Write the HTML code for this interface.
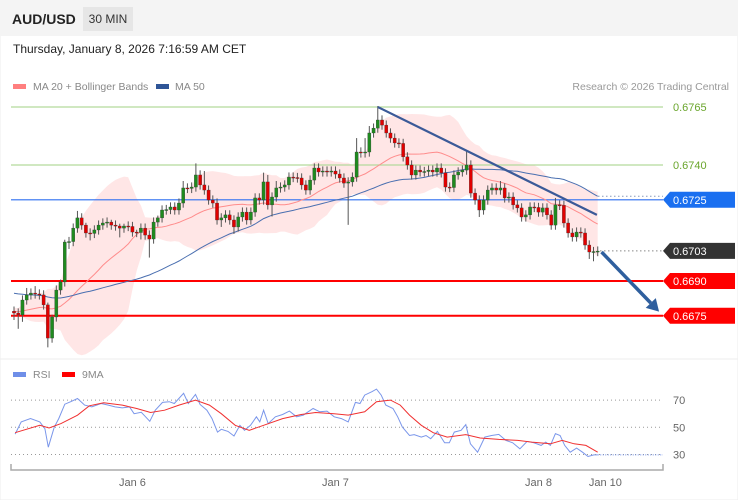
<!DOCTYPE html>
<html><head><meta charset="utf-8"><style>
body{margin:0;width:738px;height:500px;overflow:hidden;background:#fff;font-family:"Liberation Sans",sans-serif}
svg{display:block}
</style></head><body>
<svg id="c" width="738" height="500" viewBox="0 0 738 500">
<rect x="0" y="0" width="738" height="500" fill="#fff" stroke="#eee"/>
<rect x="0" y="0" width="738" height="36" fill="#f4f4f4"/>
<text x="12" y="24" font-size="14" font-weight="bold" fill="#222">AUD/USD</text>
<rect x="83" y="7" width="50" height="24" fill="#e6e6e6"/>
<text x="108" y="23" font-size="12" fill="#333" text-anchor="middle">30 MIN</text>
<text x="13" y="53" font-size="12" fill="#222">Thursday, January 8, 2026 7:16:59 AM CET</text>
<rect x="13" y="84" width="13" height="5" fill="#ff7f7f"/>
<text x="33" y="90" font-size="10.5" fill="#888">MA 20 + Bollinger Bands</text>
<rect x="156" y="84" width="13" height="5" fill="#2f5597"/>
<text x="175" y="90" font-size="10.5" fill="#888">MA 50</text>
<text x="729" y="90" font-size="10.5" fill="#999" text-anchor="end">Research © 2026 Trading Central</text>
<line x1="0" y1="359" x2="738" y2="359" stroke="#eee"/>
<g id="main"></g>
<g id="rsi"></g>
</svg>
<script>
const hist=[0.6691,0.6690,0.6692,0.6689,0.6690,0.6691,0.6690,0.6688,0.6690,0.6692,0.6691,0.6689,0.6690,0.6690,0.6691,0.6689,0.6690,0.6692,0.6690,0.6689,0.6690,0.6691,0.6690,0.6689,0.6690,0.6691,0.6690,0.6689,0.6688,0.6686,
0.6678,0.6677,0.6676,0.6678,0.6677,0.6676,0.6677,0.6678,0.6677,0.6676,0.6677,0.6678,0.6677,0.6676,0.6677,0.6678,0.6677,0.6676,0.6677];
const firstOpen=0.66770;
const closes=[0.66762,0.66754,0.66818,0.66840,0.66848,0.66844,0.66840,0.66797,0.66654,0.66745,
0.66861,0.66896,0.67068,0.67070,0.67128,0.67172,0.67141,0.67107,0.67105,0.67120,
0.67141,0.67150,0.67154,0.67141,0.67137,0.67128,0.67137,0.67135,0.67111,0.67109,
0.67128,0.67098,0.67081,0.67154,0.67172,0.67206,0.67208,0.67219,0.67206,0.67236,
0.67301,0.67299,0.67305,0.67357,0.67314,0.67292,0.67249,0.67236,0.67163,0.67172,
0.67185,0.67163,0.67133,0.67176,0.67197,0.67163,0.67197,0.67258,0.67249,0.67327,
0.67228,0.67262,0.67301,0.67305,0.67314,0.67348,0.67346,0.67344,0.67314,0.67292,
0.67335,0.67387,0.67370,0.67374,0.67370,0.67374,0.67361,0.67344,0.67322,0.67327,
0.67348,0.67456,0.67452,0.67456,0.67538,0.67559,0.67594,0.67572,0.67538,0.67516,
0.67495,0.67493,0.67435,0.67400,0.67357,0.67378,0.67370,0.67372,0.67378,0.67370,
0.67387,0.67366,0.67305,0.67303,0.67357,0.67370,0.67378,0.67400,0.67279,0.67249,
0.67206,0.67249,0.67292,0.67301,0.67292,0.67301,0.67258,0.67262,0.67228,0.67215,
0.67176,0.67185,0.67219,0.67217,0.67197,0.67215,0.67185,0.67141,0.67228,0.67226,
0.67150,0.67107,0.67090,0.67111,0.67107,0.67055,0.67025,0.67027,0.67029];
const wickUp=[2,2,2,3,2,3,2,2,1,1,2,1,1,2,2,3,2,1,2,2,2,2,2,1,2,1,1,2,2,1,2,2,2,2,1,2,2,2,2,2,3,2,2,5,2,6,2,2,2,2,2,2,2,2,2,2,2,2,2,4,3,2,3,2,2,2,2,2,2,2,2,2,2,2,2,2,2,2,2,2,2,6,2,6,3,2,6,2,2,2,2,2,2,2,2,2,2,2,2,2,2,2,2,2,2,2,2,6,2,2,2,2,2,2,2,3,2,2,2,2,2,2,2,2,2,2,2,2,3,2,2,2,2,2,2,2,2,2,2];
const wickDn=[3,6,3,2,2,2,2,2,4,2,2,2,2,3,2,2,2,2,3,2,2,2,2,2,2,4,2,2,2,2,3,2,8,2,2,2,2,2,2,2,2,2,2,2,2,2,2,2,2,3,2,2,3,2,2,2,2,2,2,2,2,5,2,2,2,2,2,2,2,2,2,2,2,2,2,2,2,2,2,18,2,2,2,2,2,2,2,2,2,2,2,2,2,2,2,2,2,2,2,2,2,2,2,2,2,2,2,2,2,2,3,2,2,2,2,2,2,2,2,2,2,2,2,2,2,2,2,2,2,2,2,2,2,2,2,2,3,4,2];
const levelPrices=[0.6765,0.6740,0.6725,0.6703,0.6690,0.6675];
const levelLabels=["0.6765","0.6740","0.6725","0.6703","0.6690","0.6675"];
const trendIdx=[86,137.8], trendPrice=[0.6765,0.67185];
const arrowIdx=[138.9,152.5], arrowPrice=[0.67025,0.66768];
const dayLabels=["Jan 6","Jan 7","Jan 8","Jan 10"];
const dayIdx=[28,76,124,139.8];
const rsiIdx=[0.25,1.7,3.9,6.1,7.3,8.1,9.5,10.6,12.0,13.4,15.0,16.7,18.4,20.6,22.3,23.9,25.6,27.3,28.4,30.1,32.1,33.4,35.1,36.7,37.9,40.1,41.2,42.9,44.0,45.6,46.8,48.1,49.0,50.6,52.0,53.4,54.5,55.9,57.3,58.1,59.0,60.1,61.8,63.5,65.1,66.8,68.4,70.7,72.3,74.0,75.7,77.4,79.0,80.7,81.8,82.9,84.6,85.7,86.8,87.9,89.6,90.7,91.8,93.5,94.6,96.3,97.4,98.5,100.1,101.8,102.9,104.1,105.7,106.8,107.9,109.6,111.3,112.9,114.6,116.3,117.9,119.6,121.3,122.9,124.6,125.7,126.8,128.0,129.1,130.2,131.5,133.0,134.4,135.7,137.1,138.0];
const rsiVal=[45,54,56.5,54,49,35.4,50,56.5,67,68.8,71.2,66.3,65,67.5,66.3,65,64.3,65,60,61,54.4,62.6,68.3,68.8,67.5,75,67.5,74.2,66.8,62.6,56.4,46.5,48.5,47,43.6,51.5,47.8,51.5,57.7,54,62.6,52.7,57.7,59.4,61.9,57.7,59,63.8,61.4,61.9,57.7,56.4,54,68.3,67.5,73.7,76.2,78.1,73.7,66.3,63.8,57.7,50.2,44,44.6,42.8,44,41.6,47,38.6,38.6,46.5,47.8,52,37.9,31.7,42.8,44,44.8,40.4,38.6,34.2,39.6,38.6,36.7,39.1,36.7,45.3,44,36.7,31.7,34.7,31.7,28.5,29.7,29.7];
const maIdx=[0.25,6.1,8.3,11.1,15.0,17.8,21.2,25.6,29.0,32.3,35.6,39.0,42.9,46.2,49.0,52.3,55.6,59.0,63.5,67.9,71.3,75.7,79.0,82.9,85.7,89.0,91.3,93.5,96.3,99.1,102.4,106.8,110.2,114.6,119.1,122.4,126.8,129.6,132.4,135.2,138];
const maVal=[46,51.5,49.5,52.7,58.9,65.8,68,66.3,63.8,60.9,62.6,66.3,70,66.3,60,51.5,47.8,51.5,56.4,59.4,60.9,60,59,61.4,68.8,70,66.3,59,51.5,46,42.8,44.6,42.1,41.1,40.4,39.1,37.9,40.4,37.9,36.7,31.7];
const rsiTicks=[70,50,30];

const NS="http://www.w3.org/2000/svg";
function mk(parent,tag,attrs){const e=document.createElementNS(NS,tag);for(const k in attrs)e.setAttribute(k,attrs[k]);parent.appendChild(e);return e;}
const X=i=>14+i*4.23;
const Y=p=>107+(0.6765-p)*23200;
const RY=v=>427.3-(v-50)*1.36;
const main=document.getElementById('main'), rsi=document.getElementById('rsi');

// indicators
const full=hist.concat(closes), H=hist.length;
const ma20=[],up=[],lo=[],ma50=[];
for(let i=0;i<closes.length;i++){
  const k=H+i;
  const w=full.slice(k-19,k+1);const m=w.reduce((a,b)=>a+b,0)/20;
  const sd=Math.sqrt(w.reduce((a,b)=>a+(b-m)*(b-m),0)/20);
  ma20.push(m);up.push(m+2*sd);lo.push(m-2*sd);
  const w5=full.slice(k-49,k+1);ma50.push(w5.reduce((a,b)=>a+b,0)/50);
}
let bd="M"+closes.map((c,i)=>X(i).toFixed(1)+","+Y(up[i]).toFixed(1)).join("L");
for(let i=closes.length-1;i>=0;i--)bd+="L"+X(i).toFixed(1)+","+Y(lo[i]).toFixed(1);
const band=mk(main,'path',{d:bd+"Z",fill:"#ffdede","fill-opacity":"0.75"});



// levels
const levColors=["#b5d99c","#b5d99c","#2d6ff0","#888","#f00","#f00"];
levelPrices.forEach((p,j)=>{
  const y=Y(p);let ln;
  if(j===3){ln=mk(main,'line',{x1:600,y1:y,x2:663,y2:y,stroke:"#888","stroke-dasharray":"1.5,2.5"});}
  else if(j===2){ln=mk(main,'line',{x1:11,y1:y,x2:663,y2:y,stroke:levColors[j],"stroke-width":1.2});
    const d=mk(main,'line',{x1:598,y1:Y(ma50[ma50.length-1]),x2:663,y2:Y(ma50[ma50.length-1]),stroke:"#8899bb","stroke-dasharray":"1.5,2.5"});
    
    }
  else ln=mk(main,'line',{x1:11,y1:y,x2:663,y2:y,stroke:levColors[j],"stroke-width":(j>=4?2:1.2)});
  
  
  if(j<2){
    const t=mk(main,'text',{x:673,y:y+4,"font-size":11,fill:"#6aa52c"});t.textContent=levelLabels[j];
    
    
  }else{
    const bg=["#1a6ff0","#333","#f00","#f00"][j-2];
    const b=mk(main,'path',{d:`M663,${y}L670,${y-8}L735,${y-8}L735,${y+8}L670,${y+8}Z`,fill:bg});
    
    
    const t=mk(main,'text',{x:673,y:y+4,"font-size":11,fill:"#fff"});t.textContent=levelLabels[j];
    
    
  }
});

// MA lines
const l20=mk(main,'polyline',{points:ma20.map((v,i)=>X(i).toFixed(1)+","+Y(v).toFixed(1)).join(" "),fill:"none",stroke:"#ff8c8c","stroke-width":1});


const l50=mk(main,'polyline',{points:ma50.map((v,i)=>X(i).toFixed(1)+","+Y(v).toFixed(1)).join(" "),fill:"none",stroke:"#4a6fb0","stroke-width":1});



// candles
closes.forEach((c,i)=>{
  const o=i===0?firstOpen:closes[i-1];
  const hi=Math.max(o,c)+wickUp[i]/10000, lw=Math.min(o,c)-wickDn[i]/10000;
  const x=X(i);
  const w=mk(main,'line',{x1:x,y1:Y(hi),x2:x,y2:Y(lw),stroke:"#555","stroke-width":1});
  
  
  const top=Y(Math.max(o,c)),h=Math.max(1,Y(Math.min(o,c))-top);
  const r=mk(main,'rect',{x:x-1.6,y:top,width:3.2,height:h,fill:c>=o?"#1f8a1f":"#e00000",stroke:"#333","stroke-width":0.3});
  
  
});

// trendline & arrow
const tl=mk(main,'line',{x1:X(trendIdx[0]),y1:Y(trendPrice[0]),x2:X(trendIdx[1]),y2:Y(trendPrice[1]),stroke:"#3b5a98","stroke-width":2.2});


const ax1=X(arrowIdx[0]),ay1=Y(arrowPrice[0]),ax2=X(arrowIdx[1]),ay2=Y(arrowPrice[1]);
const ang=Math.atan2(ay2-ay1,ax2-ax1);
const bx=ax2-12*Math.cos(ang),by=ay2-12*Math.sin(ang);
const ar=mk(main,'line',{x1:ax1,y1:ay1,x2:bx,y2:by,stroke:"#2f5f9e","stroke-width":3.5});


const px=-Math.sin(ang)*7,py=Math.cos(ang)*7;
const ah=mk(main,'path',{d:`M${ax2},${ay2}L${bx+px},${by+py}L${bx-px},${by-py}Z`,fill:"#2f5f9e"});



// RSI panel
const lg1=mk(rsi,'rect',{x:13,y:372,width:13,height:5,fill:"#6f8fe8"});


const lt1=mk(rsi,'text',{x:33,y:378,"font-size":10.5,fill:"#888"});lt1.textContent="RSI";


const lg2=mk(rsi,'rect',{x:62,y:372,width:13,height:5,fill:"#f00"});


const lt2=mk(rsi,'text',{x:82,y:378,"font-size":10.5,fill:"#888"});lt2.textContent="9MA";


rsiTicks.forEach(v=>{
  const g=mk(rsi,'line',{x1:11,y1:RY(v),x2:663,y2:RY(v),stroke:"#999","stroke-dasharray":"1,3"});
  
  
  const t=mk(rsi,'text',{x:673,y:RY(v)+4,"font-size":11,fill:"#666"});t.textContent=v;
  
  
});
const lastR=rsiVal[rsiVal.length-1];
const rd=mk(rsi,'line',{x1:X(rsiIdx[rsiIdx.length-1]),y1:RY(lastR),x2:663,y2:RY(lastR),stroke:"#6f8fe8","stroke-dasharray":"1,1.5"});


const rl=mk(rsi,'polyline',{points:rsiIdx.map((v,i)=>X(v).toFixed(1)+","+RY(rsiVal[i]).toFixed(1)).join(" "),fill:"none",stroke:"#7a96ea","stroke-width":1});


const ml=mk(rsi,'polyline',{points:maIdx.map((v,i)=>X(v).toFixed(1)+","+RY(maVal[i]).toFixed(1)).join(" "),fill:"none",stroke:"#f03030","stroke-width":1});



// x axis
const xa=mk(rsi,'path',{d:"M11,464L11,470L663,470L663,464",fill:"none",stroke:"#aaa","stroke-width":1.5});


dayLabels.forEach((d,j)=>{
  const t=mk(rsi,'text',{x:X(dayIdx[j]),y:486,"font-size":11,fill:"#666","text-anchor":"middle"});t.textContent=d;
  
  
});
</script>
</body></html>
